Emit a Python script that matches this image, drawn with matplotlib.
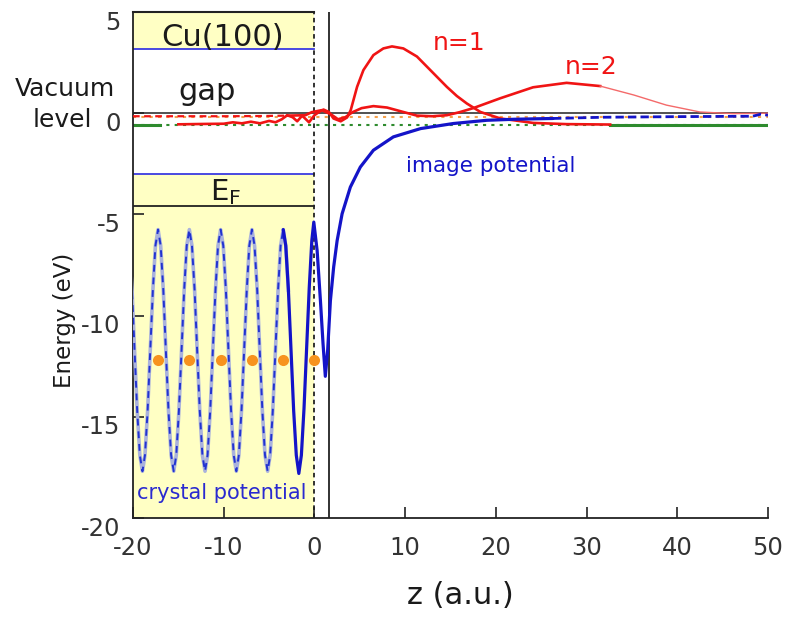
import matplotlib

matplotlib.use("Agg")
import matplotlib.pyplot as plt
import matplotlib.transforms as mtransforms

plt.rcParams["axes.unicode_minus"] = False

# --- data (z in a.u., energy in eV) ---
GAP_TOP = 3.15
GAP_BOTTOM = -3.0
E_FERMI = -4.6
N1_LEVEL = -0.56
N2_LEVEL = -0.18
IMAGE_PLANE_Z = 1.65
CRYSTAL_EDGE_Z = 0.0
N1_SOLID_SPANS = [(-20.0, -17.0), (32.6, 50.0)]

# bulk crystal potential (light line with blue dashes)
CRYSTAL_Z = [
    -20.69, -20.40, -20.11, -19.83, -19.54, -19.25, -18.96, -18.68, -18.39, -18.10, -17.81, -17.53,
    -17.24, -16.95, -16.66, -16.38, -16.09, -15.80, -15.51, -15.23, -14.94, -14.65, -14.36, -14.08,
    -13.79, -13.50, -13.21, -12.93, -12.64, -12.35, -12.06, -11.78, -11.49, -11.20, -10.91, -10.63,
    -10.34, -10.05, -9.76, -9.48, -9.19, -8.90, -8.61, -8.33, -8.04, -7.75, -7.46, -7.18,
    -6.89, -6.60, -6.31, -6.03, -5.74, -5.45, -5.16, -4.88, -4.59, -4.30, -4.01, -3.73,
    -3.44, -3.16, -2.87,
]
CRYSTAL_E = [
    -5.75, -6.55, -8.74, -11.72, -14.70, -16.89, -17.69, -16.89, -14.70, -11.72, -8.74, -6.55,
    -5.75, -6.55, -8.74, -11.72, -14.70, -16.89, -17.69, -16.89, -14.70, -11.72, -8.74, -6.55,
    -5.75, -6.55, -8.74, -11.72, -14.70, -16.89, -17.69, -16.89, -14.70, -11.72, -8.74, -6.55,
    -5.75, -6.55, -8.74, -11.72, -14.70, -16.89, -17.69, -16.89, -14.70, -11.72, -8.74, -6.55,
    -5.75, -6.55, -8.74, -11.72, -14.70, -16.89, -17.69, -16.89, -14.70, -11.72, -8.74, -6.55,
    -5.75, -6.55, -8.74,
]

# surface + image potential (thick blue)
SURFACE_Z = [-3.44, -3.16, -2.87, -2.58, -2.29, -2.00, -1.72, -1.44, -1.15, -0.86, -0.57,
             -0.29, -0.07, 0.30, 0.66, 0.95, 1.20, 1.46, 1.76, 2.12, 2.50, 3.05, 3.96,
             5.06, 6.50, 8.70, 11.7, 15.3, 19.0, 22.0, 26.3]
SURFACE_E = [-5.75, -6.55, -8.74, -11.72, -14.70, -16.90, -17.80, -16.90, -14.60, -11.60, -8.60,
             -6.30, -5.38, -6.80, -9.26, -11.40, -13.00, -11.70, -9.26, -7.60, -6.30, -4.97, -3.65,
             -2.66, -1.83, -1.17, -0.76, -0.51, -0.35, -0.30, -0.26]
IMAGE_TAIL_Z = [26.3, 31.8, 40.0, 48.3, 49.2, 50.0]
IMAGE_TAIL_E = [-0.26, -0.20, -0.17, -0.15, -0.05, -0.10]

# atom positions
ATOM_Z = [-17.2, -13.8, -10.35, -6.9, -3.45, 0.0]
ATOM_E = [-12.2, -12.2, -12.2, -12.2, -12.2, -12.2]

# n=1 image state (drawn on its energy level)
N1_Z = [-15.0, -12.0, -10.0, -9.0, -8.0, -7.0, -6.0, -5.0, -4.3, -3.6, -3.0, -2.4, -1.9,
        -1.35, -0.6, 0.0, 0.5, 1.0, 1.6, 2.1, 2.9, 3.6, 4.0, 4.7, 5.4, 6.5, 7.6, 8.55,
        9.8, 11.3, 12.4, 13.5, 14.6, 15.7, 16.8, 18.3, 20.5, 24.1, 27.8, 32.6]
N1_E = [-0.55, -0.53, -0.52, -0.45, -0.50, -0.42, -0.50, -0.38, -0.45, -0.30, -0.10, -0.20, -0.40,
        -0.12, -0.45, -0.10, 0.06, 0.18, 0.06, -0.26, -0.40, -0.21, 0.15, 1.30, 2.13, 2.87, 3.20, 3.30,
        3.20, 2.80, 2.30, 1.80, 1.30, 0.85, 0.48, 0.06, -0.26, -0.48, -0.54, -0.56]

# n=2 image state
N2_Z = [-20.0, -15.0, -10.0, -6.0, -3.0, -1.0, -0.3, 0.8, 1.8, 2.6, 3.4, 4.2, 5.2, 6.5,
        8.0, 9.8, 11.3, 13.0, 14.6, 16.0, 17.5, 20.5, 24.1, 27.8, 31.5, 35.2, 38.8, 42.5,
        46.1, 50.0]
N2_E = [-0.15, -0.15, -0.15, -0.14, -0.12, -0.10, 0.05, 0.15, -0.05, -0.30, -0.20, 0.05, 0.25, 0.35,
        0.28, 0.06, -0.12, -0.15, -0.10, 0.05, 0.25, 0.74, 1.28, 1.50, 1.34, 0.90, 0.40, 0.06,
        -0.02, 0.00]

X_TICKS = [-20, -10, 0, 10, 20, 30, 40, 50]
Y_TICKS = [-20, -15, -10, -5, 0, 5]

RED = "#f01414"
BLUE = "#1414c8"
YELLOW = "#ffffc4"
TEXT = "#1a1a1a"

fig = plt.figure(figsize=(7.88, 6.22), dpi=100)
ax = fig.add_axes([0.1688, 0.1672, 0.8058, 0.8135])
ax.set_xlim(-20, 50)
ax.set_ylim(-20, 5)

# crystal half-space: shaded bands outside the gap
ax.fill_between([-20, CRYSTAL_EDGE_Z], GAP_TOP, 5, color=YELLOW, lw=0, zorder=0)
ax.fill_between([-20, CRYSTAL_EDGE_Z], -20, GAP_BOTTOM, color=YELLOW, lw=0, zorder=0)
ax.plot([-20, CRYSTAL_EDGE_Z], [GAP_TOP, GAP_TOP], color="#3a3ae0", lw=1.3, zorder=2)
ax.plot([-20, CRYSTAL_EDGE_Z], [GAP_BOTTOM, GAP_BOTTOM], color="#3a3ae0", lw=1.3, zorder=2)
ax.plot([-20, CRYSTAL_EDGE_Z], [E_FERMI, E_FERMI], color="#222222", lw=1.3, zorder=2)
ax.plot([-20, CRYSTAL_EDGE_Z], [5, 5], color="#222222", lw=1.5, zorder=2, clip_on=False)

# reference lines
ax.axvline(CRYSTAL_EDGE_Z, color="#222222", lw=1.3, ls=(0, (2.5, 2)), zorder=3)
ax.axvline(IMAGE_PLANE_Z, color="#222222", lw=1.3, zorder=3)
ax.axhline(0, color="#222222", lw=1.1, zorder=2)
ax.axhline(N2_LEVEL, color="#f5a04a", lw=1.5, ls=(0, (1.5, 2.5)), zorder=2)
ax.axhline(N1_LEVEL, color="#2e8b2e", lw=1.5, ls=(0, (1.5, 2.5)), zorder=2)
for z0, z1 in N1_SOLID_SPANS:
    ax.plot([z0, z1], [N1_LEVEL, N1_LEVEL], color="#2e8b2e", lw=2.2, zorder=2)

# potentials
ax.plot(CRYSTAL_Z, CRYSTAL_E, color="#aab2dc", lw=2.6, zorder=4)
ax.plot(CRYSTAL_Z, CRYSTAL_E, color="#2233d0", lw=1.4, ls=(0, (3.5, 3)), zorder=5)
ax.plot(SURFACE_Z, SURFACE_E, color=BLUE, lw=2.3, zorder=6, solid_capstyle="round")
ax.plot(IMAGE_TAIL_Z, IMAGE_TAIL_E, color=BLUE, lw=2.0, ls=(0, (3, 1.5)), zorder=6)
ax.plot(ATOM_Z, ATOM_E, "o", color="#f7931e", ms=8, mec="none", zorder=7)

# image-state wave functions
ax.plot(N1_Z, N1_E, color=RED, lw=1.9, zorder=5)
ax.plot(N2_Z[:5], N2_E[:5], color=RED, lw=1.6, ls=(0, (3, 2)), zorder=5)
ax.plot(N2_Z[4:25], N2_E[4:25], color=RED, lw=1.9, zorder=5)
ax.plot(N2_Z[24:], N2_E[24:], color="#f46a6a", lw=1.0, zorder=5)

# annotations
ax.text(-10.1, 3.3, "Cu(100)", fontsize=22, color=TEXT, ha="center", va="baseline", zorder=8)
ax.text(-11.8, 0.64, "gap", fontsize=22, color=TEXT, ha="center", va="baseline", zorder=8)
ax.text(-11.5, -4.3, r"E$_\mathregular{F}$", fontsize=21, color=TEXT, ha="left", va="baseline",
        zorder=8)
ax.text(15.9, 3.12, "n=1", fontsize=18, color=RED, ha="center", va="baseline")
ax.text(30.5, 1.93, "n=2", fontsize=18, color=RED, ha="center", va="baseline")
ax.text(19.4, -2.9, "image potential", fontsize=15.5, color=BLUE, ha="center", va="baseline")
ax.text(-10.2, -19.05, "crystal potential", fontsize=15, color="#2a2ad0", ha="center",
        va="baseline", zorder=8)
fig.text(65 / 788, 1 - 89 / 622, "Vacuum", fontsize=18, color=TEXT, ha="center", va="center")
fig.text(62 / 788, 1 - 120 / 622, "level", fontsize=18, color=TEXT, ha="center", va="center")

# axes styling
for side in ("top", "right"):
    ax.spines[side].set_visible(False)
for side in ("left", "bottom"):
    ax.spines[side].set_linewidth(1.3)
    ax.spines[side].set_color("#222222")
ax.set_xticks(X_TICKS)
ax.set_yticks(Y_TICKS)
ax.tick_params(direction="in", length=8, width=1.2, labelsize=17.5, labelcolor="#333333",
               color="#222222")
ax.tick_params(axis="x", pad=13)
ax.tick_params(axis="y", pad=9)
offset = mtransforms.ScaledTranslation(0, -0.08, fig.dpi_scale_trans)
for label in ax.get_yticklabels():
    label.set_transform(label.get_transform() + offset)

ax.set_xlabel("z (a.u.)", fontsize=22, color=TEXT)
ax.xaxis.set_label_coords(0.515, -0.125)
ax.set_ylabel("Energy (eV)", fontsize=16.5, color=TEXT)
ax.yaxis.set_label_coords(-0.09, 0.391)

fig.savefig("out.png", dpi=100)
